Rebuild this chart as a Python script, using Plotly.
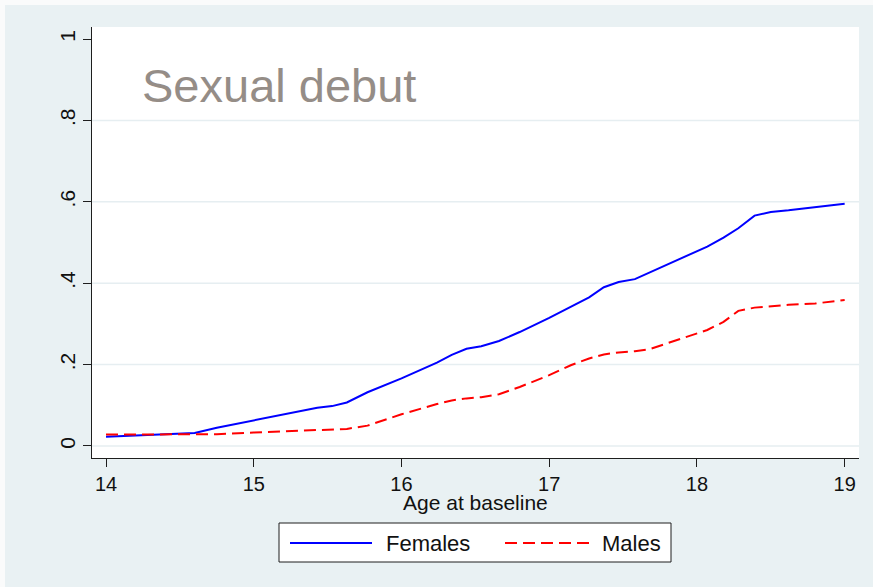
import plotly.graph_objects as go

# Age at baseline (years) and cumulative proportion reporting sexual debut
AGE = [14.0, 14.2, 14.4, 14.6, 14.75, 15.0, 15.2, 15.43, 15.53, 15.63, 15.77,
       16.0, 16.24, 16.34, 16.44, 16.54, 16.66, 16.8, 17.0, 17.15, 17.27,
       17.37, 17.47, 17.58, 17.68, 17.9, 18.07, 18.18, 18.28, 18.39, 18.5,
       18.62, 18.8, 19.0]
FEMALES = [0.023, 0.026, 0.028, 0.032, 0.045, 0.063, 0.078, 0.094, 0.098,
           0.107, 0.132, 0.166, 0.205, 0.224, 0.239, 0.245, 0.258, 0.280,
           0.315, 0.342, 0.365, 0.390, 0.403, 0.410, 0.426, 0.463, 0.490,
           0.512, 0.535, 0.566, 0.575, 0.579, 0.587, 0.595]
MALES = [0.028, 0.028, 0.028, 0.028, 0.029, 0.033, 0.036, 0.039, 0.040,
         0.042, 0.050, 0.078, 0.103, 0.112, 0.117, 0.120, 0.127, 0.145,
         0.174, 0.199, 0.215, 0.225, 0.230, 0.233, 0.238, 0.265, 0.285,
         0.305, 0.332, 0.340, 0.344, 0.347, 0.350, 0.359]

X_TICKS = [14, 15, 16, 17, 18, 19]
Y_TICKS = [0, 0.2, 0.4, 0.6, 0.8, 1]
Y_TICK_TEXT = ["0", ".2", ".4", ".6", ".8", "1"]
GRID_Y = [0, 0.2, 0.4, 0.6, 0.8]
SERIES_NAMES = ["Females", "Males"]
TITLE = "Sexual debut"
X_TITLE = "Age at baseline"

W, H = 873, 587
L, R, T, B = 92, 14, 27, 129
PW, PH = W - L - R, H - T - B

BG = "#E9F1F3"
GRID = "#E6EEF1"
AXIS = "#1E1E1E"
FONT = "Liberation Sans, Arial, sans-serif"
BLUE = "#0000FF"
RED = "#FF0000"
DASH = "12px,6px"


def px(xp):
    return (xp - L) / PW


def py(yp):
    return (H - B - yp) / PH


fig = go.Figure()
fig.add_trace(go.Scatter(x=AGE, y=FEMALES, mode="lines", name=SERIES_NAMES[0],
                         line=dict(color=BLUE, width=2), showlegend=False))
fig.add_trace(go.Scatter(x=AGE, y=MALES, mode="lines", name=SERIES_NAMES[1],
                         line=dict(color=RED, width=2, dash=DASH),
                         showlegend=False))

shapes = []
# thin pale frame strips along the top and left edges
shapes.append(dict(type="rect", xref="paper", yref="paper", layer="below",
                   x0=px(0), x1=px(W), y0=py(0), y1=py(5),
                   fillcolor="#FAFBFB", line=dict(width=0)))
shapes.append(dict(type="rect", xref="paper", yref="paper", layer="below",
                   x0=px(0), x1=px(5), y0=py(0), y1=py(H),
                   fillcolor="#FAFBFB", line=dict(width=0)))
# horizontal gridlines
for g in GRID_Y:
    shapes.append(dict(type="line", xref="paper", yref="y", layer="below",
                       x0=0, x1=1, y0=g, y1=g,
                       line=dict(color=GRID, width=1.5)))
# legend box and keys
shapes.append(dict(type="rect", xref="paper", yref="paper",
                   x0=px(279), x1=px(671), y0=py(523), y1=py(562),
                   fillcolor="white", line=dict(color=AXIS, width=1)))
shapes.append(dict(type="line", xref="paper", yref="paper",
                   x0=px(290), x1=px(372), y0=py(543), y1=py(543),
                   line=dict(color=BLUE, width=2)))
shapes.append(dict(type="line", xref="paper", yref="paper",
                   x0=px(505), x1=px(590), y0=py(543), y1=py(543),
                   line=dict(color=RED, width=2, dash=DASH)))

annotations = [
    dict(text=TITLE, xref="paper", yref="paper", x=px(140), y=py(85),
         xanchor="left", yanchor="middle", showarrow=False,
         font=dict(family=FONT, size=47, color="#958D87")),
    dict(text=X_TITLE, xref="paper", yref="paper", x=0.5, y=py(502),
         xanchor="center", yanchor="middle", showarrow=False,
         font=dict(family=FONT, size=21, color="#111111")),
    dict(text=SERIES_NAMES[0], xref="paper", yref="paper", x=px(384), y=py(543),
         xanchor="left", yanchor="middle", showarrow=False,
         font=dict(family=FONT, size=22, color="#111111")),
    dict(text=SERIES_NAMES[1], xref="paper", yref="paper", x=px(600), y=py(543),
         xanchor="left", yanchor="middle", showarrow=False,
         font=dict(family=FONT, size=22, color="#111111")),
]

fig.update_layout(
    width=W, height=H, autosize=False,
    margin=dict(l=L, r=R, t=T, b=B, pad=0),
    paper_bgcolor=BG, plot_bgcolor="white",
    font=dict(family=FONT, color="#111111"),
    shapes=shapes, annotations=annotations, showlegend=False,
)
fig.update_xaxes(
    range=[13.905, 19.097], tickvals=X_TICKS, showgrid=False, zeroline=False,
    showline=True, linecolor=AXIS, linewidth=1, mirror=False,
    ticks="outside", ticklen=8, tickwidth=1, tickcolor=AXIS,
    tickfont=dict(family=FONT, size=20, color="#111111"),
)
fig.update_yaxes(
    range=[-0.0295, 1.0295], tickvals=Y_TICKS, ticktext=Y_TICK_TEXT,
    showgrid=False, zeroline=False, showline=True, linecolor=AXIS, linewidth=1,
    ticks="outside", ticklen=8, tickwidth=1, tickcolor=AXIS, tickangle=-90,
    tickfont=dict(family=FONT, size=21, color="#111111"),
)

fig.write_html("out.html")
